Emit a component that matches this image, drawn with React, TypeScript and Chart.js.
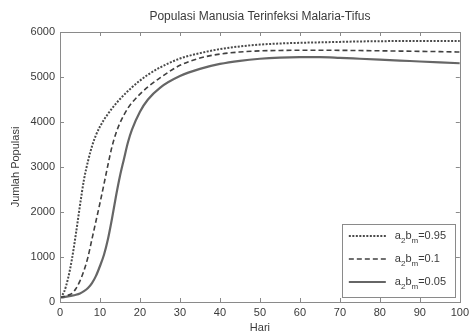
import React, { useEffect, useRef } from "react";
import { Chart, registerables } from "chart.js";

Chart.register(...registerables);

const TITLE = "Populasi Manusia Terinfeksi Malaria-Tifus";
const X_LABEL = "Hari";
const Y_LABEL = "Jumlah Populasi";

const days = [0, 1, 2, 3, 4, 5, 6, 7, 8, 9, 10, 11, 12, 13, 14, 15, 16, 17, 18, 20, 22, 25, 30, 35, 40, 45, 50, 55, 60, 65, 70, 75, 80, 85, 90, 95, 100];

const series095 = [100, 220, 520, 960, 1530, 2150, 2720, 3130, 3460, 3710, 3900, 4050, 4180, 4300, 4410, 4510, 4600, 4690, 4770, 4920, 5050, 5210, 5410, 5530, 5620, 5680, 5720, 5745, 5760, 5770, 5780, 5790, 5795, 5800, 5800, 5800, 5800];
const series01 = [100, 120, 150, 190, 300, 470, 700, 1000, 1400, 1800, 2200, 2620, 3050, 3450, 3750, 3980, 4160, 4310, 4430, 4620, 4780, 4980, 5260, 5420, 5510, 5555, 5580, 5590, 5595, 5595, 5592, 5588, 5582, 5576, 5570, 5564, 5555];
const series005 = [100, 110, 125, 140, 160, 190, 240, 310, 420, 580, 800, 1050, 1400, 1850, 2350, 2800, 3180, 3550, 3830, 4230, 4500, 4760, 5020, 5180, 5290, 5360, 5405, 5430, 5440, 5440, 5425, 5405, 5385, 5365, 5345, 5325, 5305];

// legend label value parts (drawn after "a₂bₘ")
const legendValues = ["=0.95", "=0.1", "=0.05"];

const X_MIN = 0, X_MAX = 100, X_STEP = 10;
const Y_MIN = 0, Y_MAX = 6000, Y_STEP = 1000;

const FONT = "'Liberation Sans', Arial, sans-serif";
const TEXT = "#3a3a3a";

const styles = [
  { color: "#4a4a4a", width: 2, dash: [2, 1.5] },
  { color: "#404040", width: 1.6, dash: [5, 3] },
  { color: "#666666", width: 2.2, dash: [] as number[] },
];

const framePlugin = {
  id: "frame",
  afterDatasetsDraw(chart: any) {
    const { ctx, chartArea, scales } = chart;
    const { left, right, top, bottom } = chartArea;
    const x = scales.x, y = scales.y;
    ctx.save();
    ctx.strokeStyle = "#8a8a8a";
    ctx.lineWidth = 1;
    ctx.strokeRect(Math.round(left) + 0.5, Math.round(top) + 0.5, Math.round(right - left), Math.round(bottom - top));
    const L = 4;
    ctx.beginPath();
    x.ticks.forEach((t: any) => {
      const px = Math.round(x.getPixelForValue(t.value)) + 0.5;
      ctx.moveTo(px, bottom); ctx.lineTo(px, bottom - L);
      ctx.moveTo(px, top); ctx.lineTo(px, top + L);
    });
    y.ticks.forEach((t: any) => {
      const py = Math.round(y.getPixelForValue(t.value)) + 0.5;
      ctx.moveTo(left, py); ctx.lineTo(left + L, py);
      ctx.moveTo(right, py); ctx.lineTo(right - L, py);
    });
    ctx.stroke();
    ctx.restore();
  },
  afterDraw(chart: any) {
    const { ctx, chartArea } = chart;
    ctx.save();
    // title centred over the plot area
    ctx.fillStyle = TEXT;
    ctx.font = `12px ${FONT}`;
    ctx.textAlign = "center";
    ctx.textBaseline = "middle";
    ctx.fillText(TITLE, (chartArea.left + chartArea.right) / 2, 16.5);

    const bx = chartArea.right - 118, by = chartArea.bottom - 78;
    const bw = 113, bh = 73;
    ctx.fillStyle = "#ffffff";
    ctx.fillRect(bx, by, bw, bh);
    ctx.strokeStyle = "#8a8a8a";
    ctx.lineWidth = 1;
    ctx.strokeRect(Math.round(bx) + 0.5, Math.round(by) + 0.5, bw, bh);
    chart.data.datasets.forEach((ds: any, i: number) => {
      const cy = by + 12 + i * 23;
      ctx.strokeStyle = ds.borderColor;
      ctx.lineWidth = ds.borderWidth;
      ctx.setLineDash(ds.borderDash || []);
      ctx.beginPath();
      ctx.moveTo(bx + 7, cy);
      ctx.lineTo(bx + 44, cy);
      ctx.stroke();
      ctx.setLineDash([]);
      ctx.fillStyle = TEXT;
      ctx.textBaseline = "middle";
      ctx.textAlign = "left";
      let tx = bx + 53;
      const big = `11px ${FONT}`, small = `8px ${FONT}`;
      ctx.font = big; ctx.fillText("a", tx, cy); tx += ctx.measureText("a").width;
      ctx.font = small; ctx.fillText("2", tx, cy + 5); tx += ctx.measureText("2").width;
      ctx.font = big; ctx.fillText("b", tx, cy); tx += ctx.measureText("b").width;
      ctx.font = small; ctx.fillText("m", tx, cy + 5); tx += ctx.measureText("m").width;
      ctx.font = big; ctx.fillText(legendValues[i], tx, cy);
    });
    ctx.restore();
  },
};

export default function App() {
  const ref = useRef<HTMLCanvasElement>(null);
  useEffect(() => {
    const values = [series095, series01, series005];
    const chart = new Chart(ref.current!, {
      type: "line",
      data: {
        datasets: values.map((v, i) => ({
          label: legendValues[i],
          data: days.map((d, k) => ({ x: d, y: v[k] })),
          borderColor: styles[i].color,
          borderWidth: styles[i].width,
          borderDash: styles[i].dash,
          pointRadius: 0,
          fill: false,
          cubicInterpolationMode: "monotone" as const,
        })),
      },
      options: {
        responsive: false,
        animation: false,
        layout: { padding: { left: 0, right: 10, top: 32, bottom: 0 } },
        plugins: {
          legend: { display: false },
          tooltip: { enabled: false },
          title: { display: false },
        },
        scales: {
          x: {
            type: "linear",
            min: X_MIN,
            max: X_MAX,
            grid: { display: false, drawTicks: false },
            border: { display: false },
            ticks: { stepSize: X_STEP, color: TEXT, font: { family: FONT, size: 11 }, padding: 4, maxRotation: 0, callback: (v: any) => String(v) },
            title: { display: true, text: X_LABEL, color: TEXT, font: { family: FONT, size: 11, lineHeight: 0.9 }, padding: { top: 0, bottom: 0 } },
            afterFit: (s: any) => { s.height = 31; },
          },
          y: {
            min: Y_MIN,
            max: Y_MAX,
            grid: { display: false, drawTicks: false },
            border: { display: false },
            ticks: { stepSize: Y_STEP, color: TEXT, font: { family: FONT, size: 11 }, padding: 5, callback: (v: any) => String(v) },
            title: { display: true, text: Y_LABEL, color: TEXT, font: { family: FONT, size: 11 }, padding: { top: 9, bottom: 0 } },
            afterFit: (s: any) => { s.width = 60; },
          },
        },
      },
      plugins: [framePlugin],
    });
    return () => chart.destroy();
  }, []);
  return (
    <div style={{ position: "fixed", left: 0, top: 0, width: 473, height: 333, background: "#fff" }}>
      <canvas ref={ref} width={473} height={333} />
    </div>
  );
}
